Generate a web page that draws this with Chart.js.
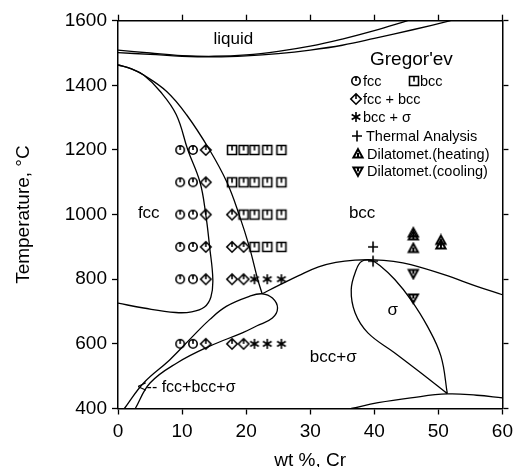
<!DOCTYPE html>
<html>
<head>
<meta charset="utf-8">
<script src="https://cdn.jsdelivr.net/npm/chart.js@4.4.1/dist/chart.umd.min.js"></script>
<style>
  html, body { margin: 0; padding: 0; background: #fff; }
  #wrap { width: 519px; height: 467px; }
</style>
</head>
<body>
<div id="wrap"><canvas id="phase_chart" width="519" height="467"></canvas></div>
<script>
"use strict";

// Axis ticks
var xTickValues = [0, 10, 20, 30, 40, 50, 60];
var yTickValues = [400, 600, 800, 1000, 1200, 1400, 1600];

// Gregor'ev measurements  [wt% Cr, T]
var fccPoints = [[9.7, 1200], [11.7, 1200], [9.7, 1100], [11.7, 1100], [9.7, 1000], [11.7, 1000],
    [9.7, 900], [11.7, 900], [9.7, 800], [11.7, 800], [9.7, 600], [11.7, 600]];
var fccBccPoints = [[13.7, 1200], [13.7, 1100], [13.7, 1000], [17.8, 1000], [13.7, 900], [17.8, 900],
    [19.6, 900], [13.7, 800], [17.8, 800], [19.6, 800], [13.7, 600], [17.8, 600], [19.6, 600]];
var bccPoints = [[17.8, 1200], [19.6, 1200], [21.3, 1200], [23.3, 1200], [25.5, 1200],
    [17.8, 1100], [19.6, 1100], [21.3, 1100], [23.3, 1100], [25.5, 1100],
    [19.6, 1000], [21.3, 1000], [23.3, 1000], [25.5, 1000],
    [21.3, 900], [23.3, 900], [25.5, 900]];
var bccSigmaPoints = [[21.3, 800], [23.3, 800], [25.5, 800], [21.3, 600], [23.3, 600], [25.5, 600]];
var thermalPoints = [[39.8, 900], [39.8, 856]];
var heatingPoints = [[46.1, 943], [46.1, 934], [46.1, 895], [50.4, 920], [50.4, 906]];
var coolingPoints = [[46.1, 818], [46.1, 742]];

// Phase boundaries
var liquidusLine = [[0, 1509], [5, 1500], [10, 1492], [15, 1490], [20, 1494], [25, 1505], [30, 1521],
    [35, 1543], [40, 1569], [45.2, 1600]];
var solidusLine = [[0, 1501], [5, 1496], [10, 1490], [15, 1488], [20, 1491], [25, 1498], [30, 1509],
    [35, 1524], [40, 1545], [46, 1572], [51.9, 1600]];
var fccBoundary = [[0, 1463], [2, 1452], [4, 1432], [6.6, 1381], [9.1, 1309], [10.9, 1200], [12.8, 1100],
    [13.7, 1000], [14.3, 900], [14.8, 800], [14.5, 745], [13.5, 714], [11.5, 699], [9, 697], [4, 711], [0, 726]];
var bccBoundary = [[0, 1463], [2, 1452], [4, 1432], [7.6, 1381], [10.7, 1309], [14.3, 1200], [17.0, 1100],
    [18.9, 1000], [20.5, 900], [21.8, 800], [22.5, 755]];
var threePhaseLoop = [[1.0, 400], [4.0, 479], [8.1, 551], [11.7, 624], [14.3, 675], [16.9, 716], [20.5, 747],
    [22.5, 755], [24.1, 742], [24.9, 711], [24.1, 680], [21.7, 656], [19.4, 634], [14.3, 593], [9.2, 541],
    [5.0, 479], [2.7, 400]];
var sigmaSolvus = [[22.5, 755], [25, 780], [28.2, 811], [31.3, 838], [34, 852], [37, 859], [40, 860],
    [43, 855], [45.7, 845], [50.9, 814], [56, 778], [60, 752]];
var sigmaLoop = [[51.4, 446], [50.4, 562], [48.3, 654], [45.7, 737], [43.2, 799], [41, 840], [39.5, 858],
    [38, 855], [37.2, 830], [36.4, 768], [37.0, 696], [39.0, 634], [43.2, 572], [47.3, 510], [51.4, 446]];
var lowerLine = [[36.4, 400], [40.6, 418], [45.7, 433], [51.4, 445], [56, 441], [60, 433]];

var fontFamily = '"Liberation Sans", Arial, Helvetica, sans-serif';

// marker images (hollow symbols with a small tick, like the scan)
var makeMarker = function (kind) {
    var c = document.createElement('canvas');
    c.width = 14;
    c.height = 14;
    var g = c.getContext('2d');
    g.translate(7, 7);
    g.strokeStyle = '#000';
    g.lineWidth = 1.6;
    g.beginPath();
    if (kind === 'circle') {
        g.arc(0, 0, 4.2, 0, Math.PI * 2);
        g.moveTo(0, -4.2); g.lineTo(0, 0);
    } else if (kind === 'square') {
        g.rect(-4.5, -4.5, 9, 9);
        g.moveTo(0, -4.5); g.lineTo(0, 0.5);
    } else if (kind === 'diamond') {
        g.moveTo(0, -5.2); g.lineTo(5.2, 0); g.lineTo(0, 5.2); g.lineTo(-5.2, 0); g.closePath();
        g.moveTo(0, -5.2); g.lineTo(0, 0);
    } else if (kind === 'star') {
        for (var i = 0; i < 3; i++) {
            var a = Math.PI / 2 + i * Math.PI / 3;
            g.moveTo(Math.cos(a) * 5, Math.sin(a) * 5);
            g.lineTo(-Math.cos(a) * 5, -Math.sin(a) * 5);
        }
    } else if (kind === 'plus') {
        g.moveTo(-5, 0); g.lineTo(5, 0);
        g.moveTo(0, -5.5); g.lineTo(0, 5.5);
    } else if (kind === 'up') {
        g.lineWidth = 2;
        g.moveTo(0, -4.8); g.lineTo(4.6, 3.6); g.lineTo(-4.6, 3.6); g.closePath();
        g.moveTo(0, -1); g.lineTo(0, 3.6);
    } else if (kind === 'down') {
        g.lineWidth = 2;
        g.moveTo(0, 4.8); g.lineTo(4.6, -3.6); g.lineTo(-4.6, -3.6); g.closePath();
        g.moveTo(0, -3.6); g.lineTo(0, 0.5);
    }
    g.stroke();
    return c;
};

var markers = {
    circle: makeMarker('circle'),
    square: makeMarker('square'),
    diamond: makeMarker('diamond'),
    star: makeMarker('star'),
    plus: makeMarker('plus'),
    up: makeMarker('up'),
    down: makeMarker('down')
};

var toXY = function (arr) {
    return arr.map(function (p) { return { x: p[0], y: p[1] }; });
};

var curve = function (arr, tension) {
    return {
        data: toXY(arr),
        showLine: true,
        borderColor: '#000',
        borderWidth: 1.3,
        pointRadius: 0,
        tension: tension
    };
};

var points = function (arr, img) {
    return {
        data: toXY(arr),
        showLine: false,
        pointStyle: img,
        pointRadius: 5
    };
};

// Text labels and the Gregor'ev legend
var labelsPlugin = {
    id: 'diagramLabels',
    afterDatasetsDraw: function (chart) {
        var ctx = chart.ctx;
        var xs = chart.scales.x;
        var ys = chart.scales.y;
        ctx.save();
        ctx.fillStyle = '#000';
        ctx.textBaseline = 'middle';

        var put = function (txt, x, y, size, align) {
            ctx.font = size + 'px ' + fontFamily;
            ctx.textAlign = align || 'center';
            ctx.fillText(txt, xs.getPixelForValue(x), ys.getPixelForValue(y));
        };
        put('liquid', 18, 1543, 17);
        put('fcc', 4.8, 1005, 17);
        put('bcc', 38.1, 1005, 17);
        put('\u03c3', 42.9, 703, 17);
        put('bcc+\u03c3', 33.6, 557, 17);
        put('<-- fcc+bcc+\u03c3', 3.0, 464, 16, 'left');

        // legend
        ctx.textAlign = 'left';
        ctx.font = '19px ' + fontFamily;
        ctx.fillText("Gregor'ev", 370, 60);
        ctx.font = '14.5px ' + fontFamily;
        var rows = [
            [markers.circle, 356, 81, 'fcc', 363],
            [markers.square, 414, 81, 'bcc', 420],
            [markers.diamond, 356, 99, 'fcc + bcc', 363],
            [markers.star, 356, 117, 'bcc + \u03c3', 363],
            [markers.plus, 357, 136, 'Thermal Analysis', 366],
            [markers.up, 358, 154, 'Dilatomet.(heating)', 367],
            [markers.down, 358, 171, 'Dilatomet.(cooling)', 367]
        ];
        rows.forEach(function (r) {
            ctx.drawImage(r[0], r[1] - 7, r[2] - 7);
            ctx.fillText(r[3], r[4], r[2] + 1);
        });
        ctx.restore();
    }
};

var setTicks = function (values) {
    return function (scale) {
        scale.ticks = values.map(function (v) { return { value: v }; });
    };
};

var axisBase = function (extra) {
    var base = {
        type: 'linear',
        grid: { drawOnChartArea: false, drawTicks: true, tickLength: 6, tickColor: '#000', tickWidth: 1.3, color: '#000' },
        border: { display: true, color: '#000', width: 1.5 }
    };
    return Object.assign(base, extra);
};

var ctxEl = document.getElementById('phase_chart');

var chart = new Chart(ctxEl, {
    type: 'scatter',
    data: {
        datasets: [
            curve(liquidusLine, 0.4),
            curve(solidusLine, 0.4),
            curve(fccBoundary, 0.4),
            curve(bccBoundary, 0.4),
            curve(threePhaseLoop, 0.4),
            curve(sigmaSolvus, 0.4),
            curve(sigmaLoop, 0.4),
            curve(lowerLine, 0.4),
            points(fccPoints, markers.circle),
            points(fccBccPoints, markers.diamond),
            points(bccPoints, markers.square),
            points(bccSigmaPoints, markers.star),
            points(thermalPoints, markers.plus),
            points(heatingPoints, markers.up),
            points(coolingPoints, markers.down)
        ]
    },
    options: {
        responsive: false,
        animation: false,
        layout: { padding: 0 },
        plugins: {
            legend: { display: false },
            tooltip: { enabled: false }
        },
        scales: {
            x: axisBase({
                position: 'bottom',
                min: 0,
                max: 60,
                afterBuildTicks: setTicks(xTickValues),
                afterFit: function (s) { s.height = 58.5; },
                ticks: {
                    color: '#000',
                    padding: 6,
                    maxRotation: 0,
                    font: { size: 19, family: fontFamily },
                    callback: function (v) { return String(v); }
                },
                title: {
                    display: true,
                    text: 'wt %, Cr',
                    color: '#000',
                    padding: 0,
                    font: { size: 19, family: fontFamily, lineHeight: 0.63 }
                }
            }),
            x2: axisBase({
                position: 'top',
                min: 0,
                max: 60,
                afterBuildTicks: setTicks(xTickValues),
                afterFit: function (s) { s.height = 20.7; },
                ticks: { display: false }
            }),
            y: axisBase({
                position: 'left',
                min: 400,
                max: 1600,
                afterBuildTicks: setTicks(yTickValues),
                afterFit: function (s) { s.width = 118; },
                ticks: {
                    color: '#000',
                    padding: 5,
                    font: { size: 19, family: fontFamily },
                    callback: function (v) { return String(v); }
                },
                title: {
                    display: true,
                    text: 'Temperature, \u00b0C',
                    color: '#000',
                    padding: { top: 12.2, bottom: 0 },
                    font: { size: 19, family: fontFamily }
                }
            }),
            y2: axisBase({
                position: 'right',
                min: 400,
                max: 1600,
                afterBuildTicks: setTicks(yTickValues),
                afterFit: function (s) { s.width = 13.5; },
                ticks: { display: false }
            })
        }
    },
    plugins: [labelsPlugin]
});
</script>
</body>
</html>
